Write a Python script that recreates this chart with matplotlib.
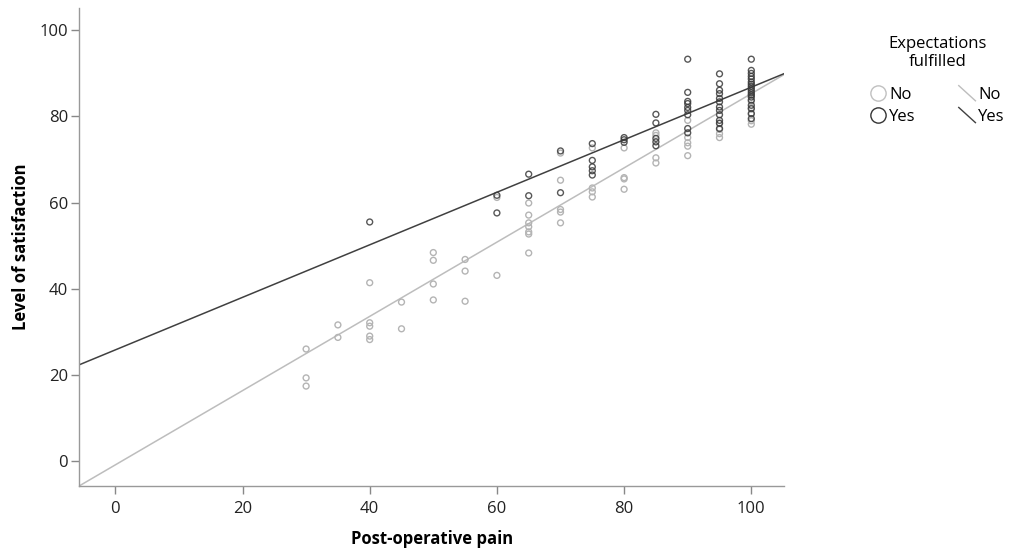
import matplotlib
matplotlib.use("Agg")
import matplotlib.pyplot as plt
from matplotlib.lines import Line2D
from matplotlib.legend_handler import HandlerBase

plt.rcParams["font.family"] = ["Open Sans", "DejaVu Sans"]

# expectations not fulfilled
no_pain = [30, 30, 30, 35, 35, 40, 40, 40, 40, 40, 45, 45,
           50, 50, 50, 50, 55, 55, 55, 60, 60,
           65, 65, 65, 65, 65, 65, 65, 70, 70, 70, 70, 70,
           75, 75, 75, 75, 80, 80, 80, 80, 85, 85, 85, 85,
           90, 90, 90, 90, 90, 95, 95, 95, 95,
           100, 100, 100, 100, 100, 100]
no_sat = [26.0, 19.3, 17.4, 31.6, 28.7, 41.4, 32.1, 31.3, 29.0, 28.2, 36.9, 30.7,
          48.4, 46.6, 41.1, 37.4, 46.8, 44.1, 37.1, 61.2, 43.1,
          59.9, 57.1, 55.3, 54.4, 53.2, 52.7, 48.3, 71.5, 65.2, 58.4, 57.8, 55.3,
          72.7, 63.4, 62.5, 61.3, 72.7, 65.8, 65.5, 63.1, 76.2, 75.6, 70.4, 69.2,
          79.1, 75.1, 73.9, 73.1, 70.9, 76.0, 75.1, 77.0, 78.5,
          78.2, 79.0, 80.5, 82.0, 83.5, 85.0]

# expectations fulfilled
yes_pain = [40, 60, 60, 65, 65, 70, 70,
            75, 75, 75, 75, 75, 80, 80, 80,
            85, 85, 85, 85, 85,
            90, 90, 90, 90, 90, 90, 90, 90, 90,
            95, 95, 95, 95, 95, 95, 95, 95, 95, 95, 95, 95,
            100, 100, 100, 100, 100, 100, 100, 100, 100,
            100, 100, 100, 100, 100, 100, 100, 100, 100]
yes_sat = [55.5, 61.7, 57.6, 66.6, 61.6, 72.0, 62.3,
           73.7, 69.8, 68.3, 67.4, 66.4, 75.1, 74.6, 74.0,
           80.5, 78.5, 74.9, 74.1, 73.2,
           93.3, 85.6, 83.5, 83.0, 82.1, 81.4, 80.4, 77.2, 76.2,
           89.9, 87.6, 86.1, 85.3, 84.2, 83.4, 82.2, 81.4, 80.4, 79.1, 78.4, 77.2,
           93.3, 90.7, 90.0, 89.3, 88.7, 88.0, 87.5, 87.0, 86.5,
           86.0, 85.5, 85.0, 84.5, 83.8, 82.6, 81.8, 80.7, 79.5]

# fit lines (intercept, slope)
fit_no = (-0.9, 0.862)
fit_yes = (25.8, 0.61)

col_no = "#b4b4b4"
col_yes = "#3a3a3a"


class DiagHandler(HandlerBase):
    def create_artists(self, legend, orig_handle, xdescent, ydescent,
                       width, height, fontsize, trans):
        ln = Line2D([-xdescent, -xdescent + width],
                    [-ydescent + height * 1.15, -ydescent - height * 0.15],
                    color=orig_handle.get_color(),
                    lw=orig_handle.get_linewidth(), transform=trans)
        return [ln]


fig = plt.figure(figsize=(10.2, 5.52), dpi=100)
ax = fig.add_axes([0.0775, 0.1196, 0.6915, 0.866])

ax.scatter(no_pain, no_sat, s=18, facecolors="none", edgecolors=col_no,
           linewidths=1.0, zorder=2)
ax.scatter(yes_pain, yes_sat, s=18, facecolors="none", edgecolors=col_yes,
           linewidths=1.0, alpha=0.85, zorder=3)

ax.axline((0, fit_no[0]), slope=fit_no[1], color="#bdbdbd", lw=1.1, zorder=1)
ax.axline((0, fit_yes[0]), slope=fit_yes[1], color="#404040", lw=1.1, zorder=1)

ax.set_xlim(-5.7, 105.2)
ax.set_ylim(-5.8, 105.2)
ax.set_xticks(range(0, 101, 20))
ax.set_yticks(range(0, 101, 20))
for s in ["top", "right"]:
    ax.spines[s].set_visible(False)
for s in ["left", "bottom"]:
    ax.spines[s].set_color("#999999")
    ax.spines[s].set_linewidth(1.0)
ax.tick_params(axis="both", direction="out", length=6, width=1.0,
               color="#888888", labelsize=12, labelcolor="#222222")
ax.tick_params(axis="x", pad=5)
ax.tick_params(axis="y", pad=2)

ax.set_xlabel("Post-operative pain", fontsize=12, fontweight="bold", labelpad=9)
ax.set_ylabel("Level of satisfaction", fontsize=12, fontweight="bold", labelpad=7)

handles = [
    Line2D([], [], marker="o", ls="none", markersize=11, markerfacecolor="none",
           markeredgecolor="#c0c0c0", markeredgewidth=1.0),
    Line2D([], [], marker="o", ls="none", markersize=11, markerfacecolor="none",
           markeredgecolor="#333333", markeredgewidth=1.0),
    Line2D([], [], color="#bdbdbd", lw=1.0),
    Line2D([], [], color="#404040", lw=1.0),
]
labels = ["No", "Yes", "No", "Yes"]
leg = fig.legend(handles, labels, ncol=2, loc="upper left",
                 bbox_to_anchor=(0.838, 0.962), frameon=False,
                 title="Expectations\nfulfilled", fontsize=12,
                 title_fontsize=12, handlelength=1.0, handletextpad=0.15,
                 columnspacing=2.6, labelspacing=0.35,
                 handler_map={handles[2]: DiagHandler(), handles[3]: DiagHandler()})
leg.get_title().set_multialignment("center")
leg._legend_box.sep = 12

fig.savefig("out.png", dpi=100)
